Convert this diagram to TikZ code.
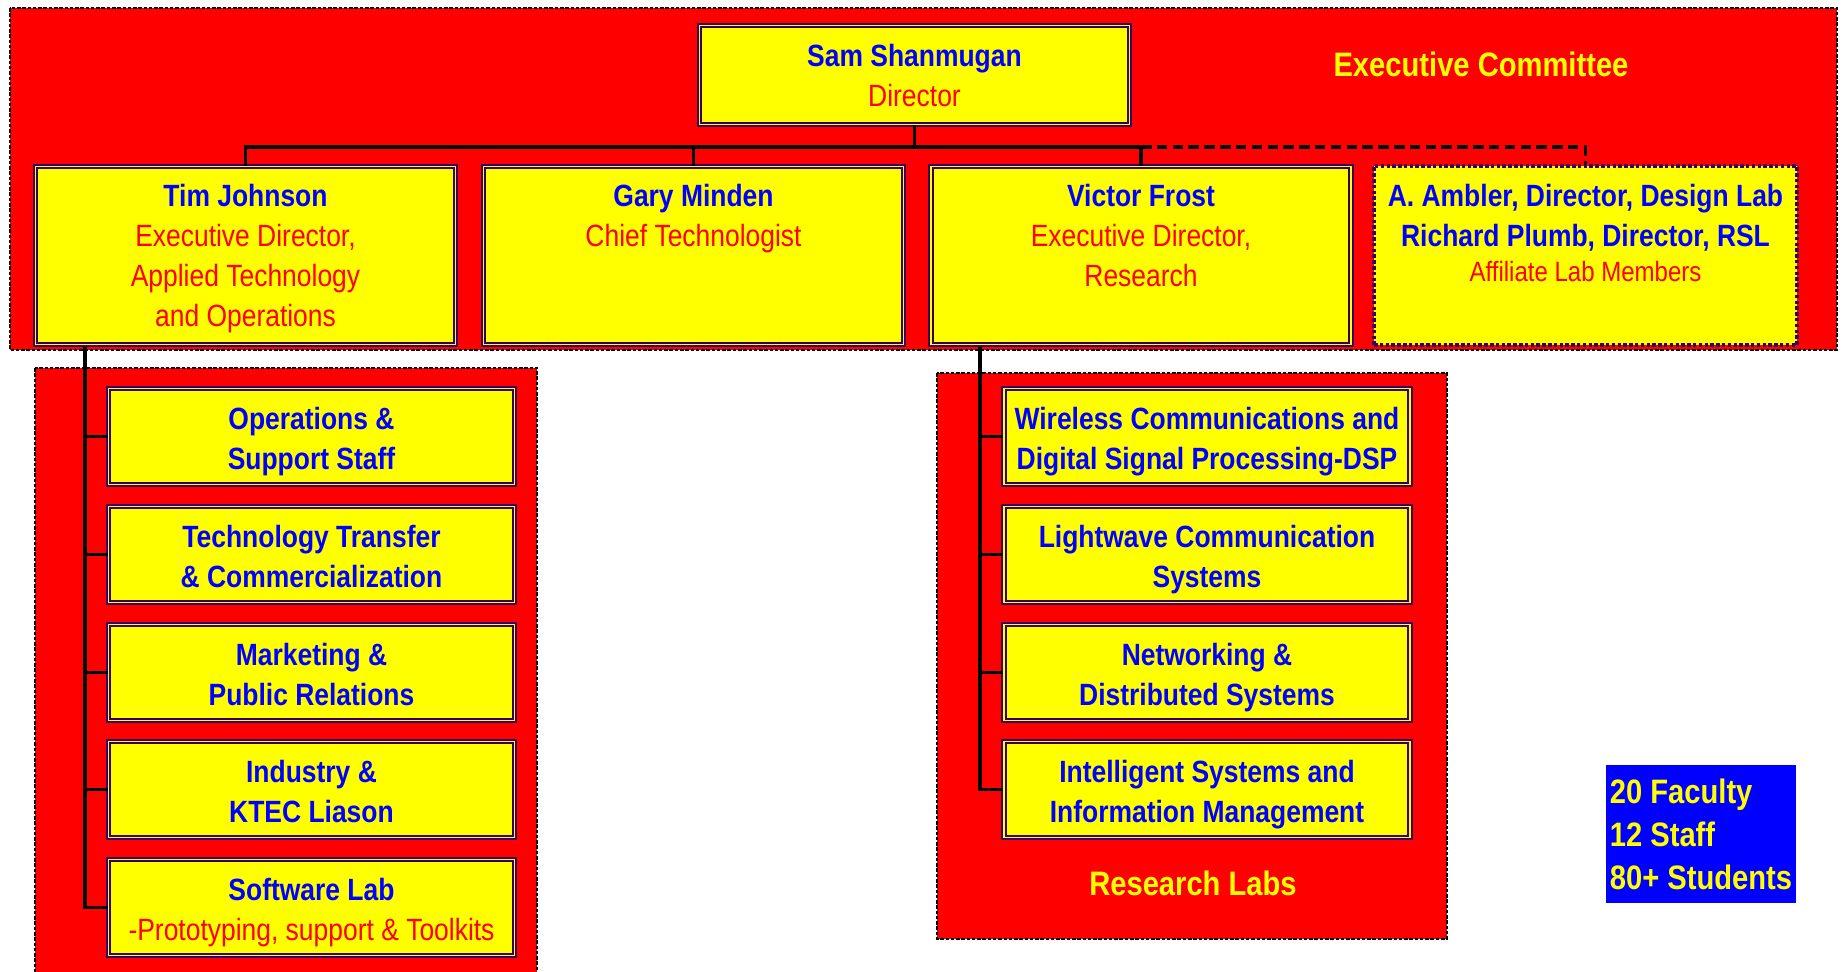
\documentclass[tikz,border=0pt]{standalone}
\usepackage{fontspec}
\setmainfont[FakeStretch=0.86]{Liberation Sans}
\usetikzlibrary{positioning}

\definecolor{navy}{RGB}{51,0,102}
\definecolor{yel}{RGB}{255,255,0}
\definecolor{rd}{RGB}{255,0,0}
\definecolor{bl}{RGB}{0,0,255}
\newcommand{\role}[1]{{\mdseries\color{rd}#1}}

\tikzset{
	region/.style={fill=rd, draw=black, line width=0.7pt, dash pattern=on 2pt off 1pt},
	unit/.style={fill=yel, draw=navy, line width=1.1pt, double=yel, double distance=1pt, inner sep=0pt},
	member/.style={fill=yel, draw=navy, line width=2.4pt, dash pattern=on 2pt off 1.3pt, inner sep=0pt},
	txt/.style={text=bl, font=\bfseries\fontsize{17.5}{22.7}\selectfont, align=center, inner sep=0pt},
	heading/.style={text=yel, font=\bfseries\fontsize{19.3}{24.4}\selectfont, inner sep=0pt},
	chief/.style={unit, minimum width=8.6cm, minimum height=1.98cm},
	lead/.style={unit, minimum width=8.4cm, minimum height=3.56cm},
	sub/.style={unit, txt, minimum width=8.12cm, minimum height=1.92cm, text height=37.4pt, text depth=0pt},
	conn/.style={line width=2pt},
}

\begin{document}
\begin{tikzpicture}[x=0.02cm, y=-0.02cm]
	\useasboundingbox (0,0) rectangle (1843,971);

	% red areas
	\draw[region] (10,8) rectangle (1837,350);
	\draw[region] (35,368) rectangle (537,990);
	\draw[region] (937,373) rectangle (1447,939);

	\node[heading] (exec) at (1481,64) {Executive Committee};
	\node[heading] (labs) at (1193,883) {Research Labs};

	% director
	\node[chief] (sam) at (914.5,75) {};
	\node[txt, anchor=north] (samt) at (914.5,44) {Sam Shanmugan\\\role{Director}};

	% executive row
	\node[lead] (tim) at (245.5,255.5) {};
	\node[lead] (gary) at (693.5,255.5) {};
	\node[lead] (victor) at (1141,255.5) {};
	\node[member, minimum width=8.46cm, minimum height=3.58cm] (aff) at (1585.5,255.5) {};

	\node[txt, anchor=north] (timt) at (245.5,184) {Tim Johnson\\\role{Executive Director,}\\\role{Applied Technology}\\\role{and Operations}};
	\node[txt, anchor=north] (garyt) at (693.5,184) {Gary Minden\\\role{Chief Technologist}};
	\node[txt, anchor=north] (victort) at (1141,184) {Victor Frost\\\role{Executive Director,}\\\role{Research}};
	\node[txt, anchor=north] (afft) at (1585.5,184) {A. Ambler, Director, Design Lab\\Richard Plumb, Director, RSL\\[-3pt]\role{\fontsize{15.9}{20}\selectfont Affiliate Lab Members}};

	% applied technology
	\node[sub] (ops) at (311.5,436.5) {Operations \&\\Support Staff};
	\node[sub] (tech) at (311.5,554.5) {Technology Transfer\\\& Commercialization};
	\node[sub] (mkt) at (311.5,672.5) {Marketing \&\\Public Relations};
	\node[sub] (ind) at (311.5,789.5) {Industry \&\\KTEC Liason};
	\node[sub] (soft) at (311.5,907.5) {Software Lab\\\role{-Prototyping, support \& Toolkits}};

	% research labs
	\node[sub] (wire) at (1207,436.5) {Wireless Communications and\\Digital Signal Processing-DSP};
	\node[sub] (light) at (1207,554.5) {Lightwave Communication\\Systems};
	\node[sub] (net) at (1207,672.5) {Networking \&\\Distributed Systems};
	\node[sub] (intel) at (1207,789.5) {Intelligent Systems and\\Information Management};

	\node[fill=bl, text=yel, font=\bfseries\fontsize{19.3}{24.4}\selectfont, align=left, minimum width=3.8cm, minimum height=2.76cm, inner xsep=2pt] (stats) at (1701,834) {20 Faculty\\12 Staff\\80+ Students};

	% lines
	\coordinate (bus) at (0,147);
	\coordinate (tj) at (85,347);
	\coordinate (vf) at (980,347);
	\draw[conn] (sam.south) -- (sam.south |- bus);
	\draw[conn] (tim.north) -- (tim.north |- bus) -- (victor.north |- bus) -- (victor.north);
	\draw[conn] (gary.north) -- (gary.north |- bus);
	\draw[conn, dash pattern=on 6pt off 3pt] (victor.north |- bus) -- (aff.north |- bus) -- (aff.north);
	\foreach \b in {ops,tech,mkt,ind,soft}
		\draw[conn] (tj) |- (\b.west);
	\foreach \b in {wire,light,net,intel}
		\draw[conn] (vf) |- (\b.west);
\end{tikzpicture}
\end{document}
